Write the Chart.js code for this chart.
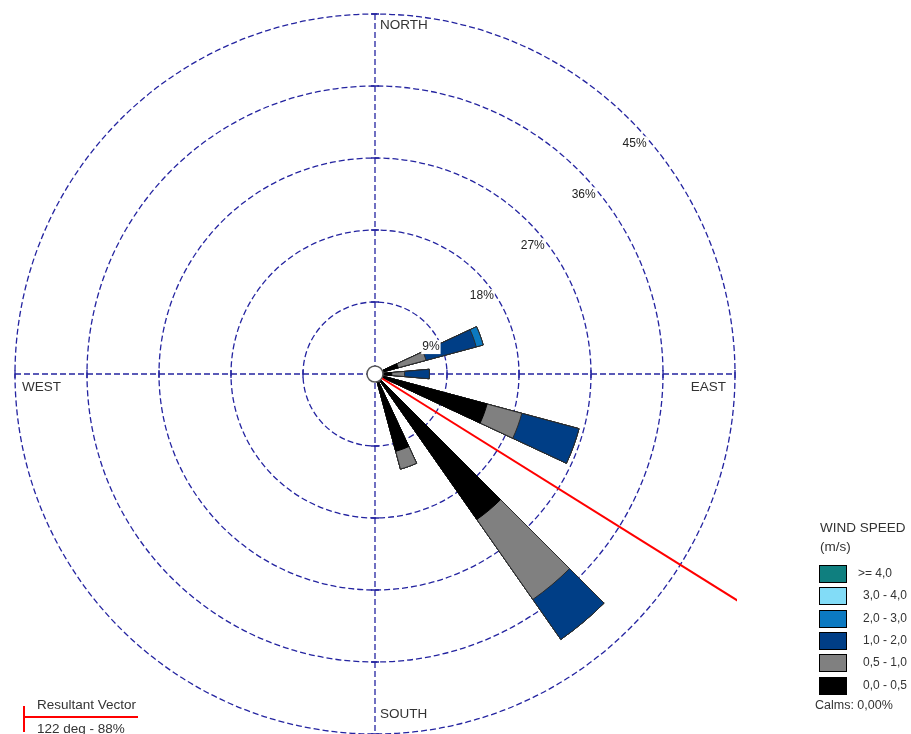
<!DOCTYPE html>
<html>
<head>
<meta charset="utf-8">
<script src="https://cdn.jsdelivr.net/npm/chart.js@4/dist/chart.umd.min.js"></script>
<style>
  html, body { margin: 0; padding: 0; background: #fff; overflow: hidden; }
  body { width: 911px; height: 734px; position: relative; font-family: "Liberation Sans", Arial, sans-serif; color: #333; }
  #wrap { position: absolute; left: 0; top: 0; width: 911px; height: 734px; }
  .legend { position: absolute; left: 820px; top: 518px; font-size: 13.5px; }
  .legend .title { line-height: 19px; white-space: nowrap; }
  .legend .item { position: absolute; left: -1px; width: 100px; height: 18px; }
  .legend .box { position: absolute; left: 0; top: 0; width: 26px; height: 16px; border: 1px solid #000; }
  .legend .txt { position: absolute; top: 1px; font-size: 12px; white-space: pre; }
  .calms { position: absolute; left: 815px; top: 698px; font-size: 12.5px; }
  .resultant { position: absolute; left: 23px; top: 697px; font-size: 13.5px; }
  .resultant .v { position: absolute; left: 0; top: 9px; width: 2px; height: 26px; background: #f00; }
  .resultant .h { position: absolute; left: 0; top: 19px; width: 115px; height: 2px; background: #f00; }
  .resultant .t1 { position: absolute; left: 14px; top: 0; white-space: nowrap; }
  .resultant .t2 { position: absolute; left: 14px; top: 24px; white-space: nowrap; }
</style>
</head>
<body>
<div id="wrap"><canvas id="rose"></canvas></div>
<div class="legend" id="legend">
  <div class="title">WIND SPEED<br>(m/s)</div>
</div>
<div class="calms">Calms: 0,00%</div>
<div class="resultant">
  <div class="v"></div><div class="h"></div>
  <div class="t1">Resultant Vector</div>
  <div class="t2">122 deg - 88%</div>
</div>
<script>
// direction bins, 10 degrees each, starting at north
const bearings = [0,10,20,30,40,50,60,70,80,90,100,110,120,130,140,150,160,170,
                  180,190,200,210,220,230,240,250,260,270,280,290,300,310,320,330,340,350];

// frequency (%) per speed class and direction
const speed00_05 = [0,0,0,0,0,0,0,3.0,0,2.1,0,14.5,0,0,22.2,0,10.0,0, 0,0,0,0,0,0,0,0,0,0,0,0,0,0,0,0,0,0];
const speed05_10 = [0,0,0,0,0,0,0,3.6,0,1.6,0,4.5,0,0,12.2,0,2.3,0, 0,0,0,0,0,0,0,0,0,0,0,0,0,0,0,0,0,0];
const speed10_20 = [0,0,0,0,0,0,0,6.5,0,3.1,0,7.4,0,0,6.1,0,0,0, 0,0,0,0,0,0,0,0,0,0,0,0,0,0,0,0,0,0];
const speed20_30 = [0,0,0,0,0,0,0,0.9,0,0,0,0,0,0,0,0,0,0, 0,0,0,0,0,0,0,0,0,0,0,0,0,0,0,0,0,0];
const speed30_40 = [0,0,0,0,0,0,0,0,0,0,0,0,0,0,0,0,0,0, 0,0,0,0,0,0,0,0,0,0,0,0,0,0,0,0,0,0];
const speed40_up = [0,0,0,0,0,0,0,0,0,0,0,0,0,0,0,0,0,0, 0,0,0,0,0,0,0,0,0,0,0,0,0,0,0,0,0,0];

const classLabels = ['0,0 - 0,5', '0,5 - 1,0', '1,0 - 2,0', '2,0 - 3,0', '3,0 - 4,0', '>= 4,0'];
const classColors = ['#000000', '#808080', '#003e86', '#0b79c1', '#82dcf7', '#0f7f7f'];
const ringTicks = [9, 18, 27, 36, 45];
const compassLabels = ['NORTH', 'EAST', 'SOUTH', 'WEST'];
const resultantDeg = 122;
const resultantPct = 88;

// stacked rose: each class drawn as a wedge up to its cumulative total
const classes = [speed00_05, speed05_10, speed10_20, speed20_30, speed30_40, speed40_up];
const cumulative = [];
classes.forEach((arr, k) => {
  cumulative.push(arr.map((v, i) => v + (k ? cumulative[k - 1][i] : 0)));
});

const datasets = cumulative.map((data, k) => ({
  label: classLabels[k],
  data: data,
  backgroundColor: classColors[k],
  borderColor: k === 0 ? '#000' : '#2a2a2a',
  borderWidth: ctx => (ctx.raw > 0 ? 1 : 0)
}));

const GRID = '#2424a0';

const roseExtras = {
  id: 'roseExtras',
  beforeDatasetsDraw(chart) {
    const s = chart.scales.r;
    const ctx = chart.ctx;
    const cx = s.xCenter, cy = s.yCenter, R = s.drawingArea;
    ctx.save();
    ctx.strokeStyle = GRID;
    ctx.lineWidth = 1.3;
    ctx.setLineDash([6, 3]);
    ctx.beginPath();
    ctx.moveTo(cx - R, cy); ctx.lineTo(cx + R, cy);
    ctx.moveTo(cx, cy - R); ctx.lineTo(cx, cy + R);
    ctx.stroke();
    ctx.setLineDash([]);
    ctx.beginPath();
    ringTicks.forEach(v => {
      const d = s.getDistanceFromCenterForValue(v);
      [-1, 1].forEach(sg => {
        ctx.moveTo(cx + sg * d, cy - 4); ctx.lineTo(cx + sg * d, cy + 4);
        ctx.moveTo(cx - 4, cy + sg * d); ctx.lineTo(cx + 4, cy + sg * d);
      });
    });
    ctx.stroke();
    ctx.restore();
  },
  afterDatasetsDraw(chart) {
    const s = chart.scales.r;
    const ctx = chart.ctx;
    const cx = s.xCenter, cy = s.yCenter, R = s.drawingArea;
    ctx.save();
    // resultant vector, clipped to the plot square
    ctx.beginPath();
    ctx.rect(cx - R, cy - R, 2 * R + 2, 2 * R);
    ctx.clip();
    const a = resultantDeg * Math.PI / 180;
    const len = s.getDistanceFromCenterForValue(resultantPct);
    ctx.strokeStyle = '#ff0000';
    ctx.lineWidth = 2;
    ctx.beginPath();
    ctx.moveTo(cx, cy);
    ctx.lineTo(cx + Math.sin(a) * len, cy - Math.cos(a) * len);
    ctx.stroke();
    ctx.restore();

    ctx.save();
    // ring labels
    ctx.font = '12px "Liberation Sans", Arial, sans-serif';
    ctx.textAlign = 'center';
    ctx.textBaseline = 'middle';
    ringTicks.forEach(v => {
      const d = s.getDistanceFromCenterForValue(v);
      const x = cx + d * Math.SQRT1_2 + 5;
      const y = cy - d * Math.SQRT1_2 + 24;
      const txt = v + '%';
      const w = ctx.measureText(txt).width;
      ctx.fillStyle = '#fff';
      ctx.fillRect(x - w / 2 - 1, y - 7, w + 2, 14);
      ctx.fillStyle = '#222';
      ctx.fillText(txt, x, y);
    });
    // compass labels
    ctx.font = '13.5px "Liberation Sans", Arial, sans-serif';
    ctx.fillStyle = '#333';
    ctx.textBaseline = 'middle';
    ctx.textAlign = 'left';
    ctx.fillText(compassLabels[0], cx + 5, cy - R + 11);
    ctx.fillText(compassLabels[2], cx + 5, cy + R - 20);
    ctx.fillText(compassLabels[3], cx - R + 7, cy + 13);
    ctx.textAlign = 'right';
    ctx.fillText(compassLabels[1], cx + R - 9, cy + 13);
    // calm circle
    ctx.beginPath();
    ctx.arc(cx, cy, 8, 0, Math.PI * 2);
    ctx.fillStyle = '#fff';
    ctx.fill();
    ctx.lineWidth = 1.5;
    ctx.strokeStyle = '#555';
    ctx.stroke();
    ctx.restore();
  }
};

new Chart(document.getElementById('rose'), {
  type: 'polarArea',
  data: { labels: bearings, datasets: datasets },
  plugins: [roseExtras],
  options: {
    responsive: true,
    maintainAspectRatio: false,
    animation: false,
    events: [],
    layout: { padding: { left: 13, top: 14, right: 174, bottom: -4 } },
    plugins: { legend: { display: false }, tooltip: { enabled: false } },
    scales: {
      r: {
        min: 0,
        max: 45,
        startAngle: -5,
        ticks: { display: false, stepSize: 9 },
        pointLabels: { display: false },
        angleLines: { display: false },
        grid: { circular: true, color: GRID, lineWidth: 1.3 },
        border: { dash: [6, 3] }
      }
    }
  }
});

// legend (top item is the highest class)
const legend = document.getElementById('legend');
for (let k = classLabels.length - 1, row = 0; k >= 0; k--, row++) {
  const item = document.createElement('div');
  item.className = 'item';
  item.style.top = (47 + row * 22.3) + 'px';
  const box = document.createElement('div');
  box.className = 'box';
  box.style.background = classColors[k];
  const txt = document.createElement('div');
  txt.className = 'txt';
  txt.style.left = (k === 5 ? 39 : 44) + 'px';
  txt.textContent = classLabels[k];
  item.appendChild(box);
  item.appendChild(txt);
  legend.appendChild(item);
}
</script>
</body>
</html>
